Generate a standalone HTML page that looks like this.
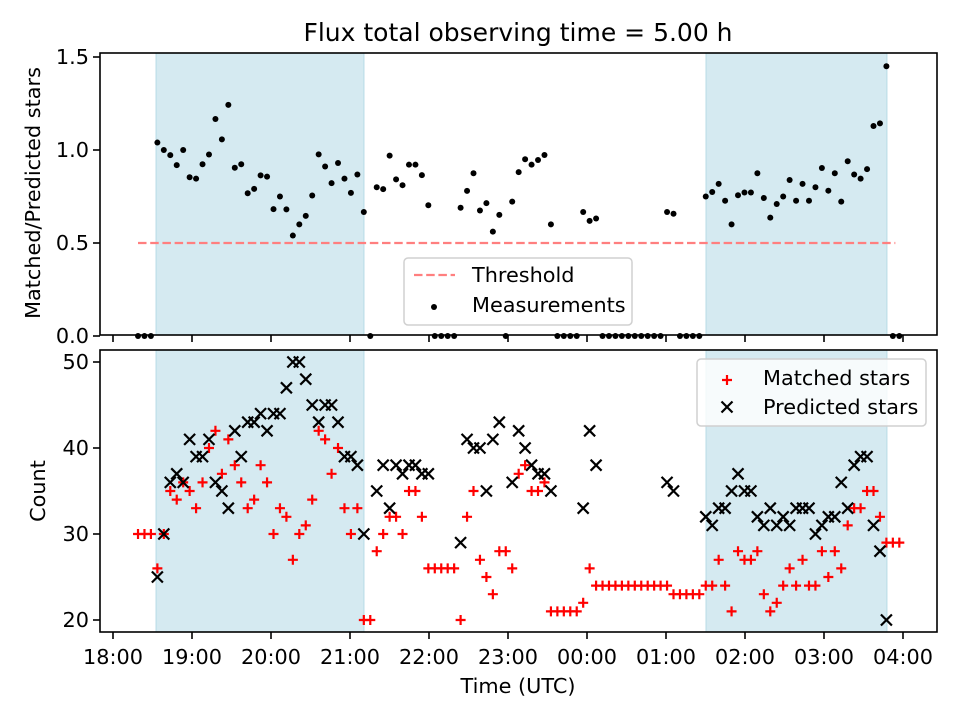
<!DOCTYPE html>
<html><head><meta charset="utf-8"><style>
html,body{margin:0;padding:0;background:#fff}
svg{display:block;font-family:"DejaVu Sans","Liberation Sans",sans-serif}
</style></head><body>
<svg id="chart" width="960" height="720" viewBox="0 0 960 720"></svg>
<script>
const ticksX = ["18:00","19:00","20:00","21:00","22:00","23:00","00:00","01:00","02:00","03:00","04:00"];
const ticksTop = [0, 0.5, 1.0, 1.5];
const ticksBottom = [20, 30, 40, 50];
const startMin = 19;
const stepMin = 4.9;
const threshold = 0.5;
const spans = [[32.7, 190.6], [450.4, 587.8]];
const matched = [30,30,30,26,30,35,34,36,35,33,36,40,42,37,41,38,36,33,34,38,36,30,33,32,27,30,31,34,42,41,37,40,33,30,33,20,20,28,30,32,32,30,35,35,32,26,26,26,26,26,20,32,35,27,25,23,28,28,26,37,38,35,35,36,21,21,21,21,21,22,26,24,24,24,24,24,24,24,24,24,24,24,24,23,23,23,23,23,24,24,27,24,21,28,27,27,28,23,21,22,24,26,24,27,24,24,28,25,28,26,31,33,33,35,35,32,29,29,29];
const predicted = [null,null,null,25,30,36,37,36,41,39,39,41,36,35,33,42,39,43,43,44,42,44,44,47,50,50,48,45,43,45,45,43,39,39,38,30,null,35,38,33,38,37,38,38,37,37,null,null,null,null,29,41,40,40,35,41,43,null,36,42,40,38,37,37,35,null,null,null,null,33,42,38,null,null,null,null,null,null,null,null,null,null,36,35,null,null,null,null,32,31,33,33,35,37,35,35,32,31,33,31,32,31,33,33,33,30,31,32,32,36,33,38,39,39,31,28,20,null,null];

const NS = "http://www.w3.org/2000/svg";
const svg = document.getElementById('chart');
function mk(tag, attrs, parent){const e=document.createElementNS(NS,tag);for(const k in attrs)e.setAttribute(k,attrs[k]);(parent||svg).appendChild(e);return e;}
const L=100,R=937, T1=53,B1=335, T2=350,B2=632;
const xMin = m => 113 + 79*m/60;
const yTop = v => 336 - v*186;
const yBot = v => 620 - (v-20)*8.6;
const ratio = matched.map((m,i)=> predicted[i] ? m/predicted[i] : 0);
const times = matched.map((m,i)=> startMin + i*stepMin);

[[T1,B1],[T2,B2]].forEach((p,pi)=>{
  spans.forEach((s,si)=>{
    const r=mk('rect',{x:xMin(s[0]),y:p[0],width:xMin(s[1])-xMin(s[0]),height:p[1]-p[0],fill:'#d5eaf1',stroke:'#b7dbe6','stroke-width':1});
    
    
  });
});

const th=mk('line',{x1:xMin(times[0]),x2:xMin(times[times.length-1])-4,y1:yTop(threshold),y2:yTop(threshold),stroke:'#ff7f7f','stroke-width':2.2,'stroke-dasharray':'8.5,3.7'});



times.forEach((t,i)=>{
  const c=mk('circle',{cx:xMin(t),cy:yTop(ratio[i]),r:3,fill:'#000'});
  
  
});

times.forEach((t,i)=>{
  const x=xMin(t), y=yBot(matched[i]);
  const p=mk('path',{d:`M${x-5},${y}H${x+5}M${x},${y-5}V${y+5}`,stroke:'#ff0000','stroke-width':2.2,fill:'none'});
  
  
});
times.forEach((t,i)=>{
  if(predicted[i]==null) return;
  const x=xMin(t), y=yBot(predicted[i]);
  const p=mk('path',{d:`M${x-5.5},${y-5.5}L${x+5.5},${y+5.5}M${x-5.5},${y+5.5}L${x+5.5},${y-5.5}`,stroke:'#000','stroke-width':2.2,fill:'none'});
  
  
});

[[T1,B1,'top-axes-frame'],[T2,B2,'bottom-axes-frame']].forEach(p=>{
  const f=mk('rect',{x:L,y:p[0],width:R-L,height:p[1]-p[0],fill:'none',stroke:'#000','stroke-width':1.6});
  
  
});

ticksX.forEach((lab,k)=>{
  const x=113+79*k;
  mk('line',{x1:x,x2:x,y1:B1,y2:B1+7,stroke:'#000','stroke-width':1.6});
  mk('line',{x1:x,x2:x,y1:B2,y2:B2+7,stroke:'#000','stroke-width':1.6});
  const tx=mk('text',{x:x,y:664,'font-size':20.8,'text-anchor':'middle',fill:'#000'});
  tx.textContent=lab;
  
  
});
ticksTop.forEach(v=>{
  const y=yTop(v);
  mk('line',{x1:L-7,x2:L,y1:y,y2:y,stroke:'#000','stroke-width':1.6});
  const tx=mk('text',{x:L-11,y:y+7,'font-size':20.8,'text-anchor':'end',fill:'#000'});
  tx.textContent=v.toFixed(1);
  
  
});
ticksBottom.forEach(v=>{
  const y=yBot(v);
  mk('line',{x1:L-7,x2:L,y1:y,y2:y,stroke:'#000','stroke-width':1.6});
  const tx=mk('text',{x:L-11,y:y+7,'font-size':20.8,'text-anchor':'end',fill:'#000'});
  tx.textContent=String(v);
  
  
});
</script>
<svg width="960" height="720" style="position:absolute;left:0;top:0;font-family:'DejaVu Sans','Liberation Sans',sans-serif">
  <text x="518" y="41" font-size="25" text-anchor="middle">Flux total observing time = 5.00 h</text>
  <text x="518" y="693" font-size="20.8" text-anchor="middle">Time (UTC)</text>
  <text transform="translate(40,193) rotate(-90)" font-size="20.8" text-anchor="middle">Matched/Predicted stars</text>
  <text transform="translate(45,491) rotate(-90)" font-size="20.8" text-anchor="middle">Count</text>
  <g>
    <rect x="404" y="258" width="228" height="67" rx="4" fill="#fff" fill-opacity="0.85" stroke="#d0d0d0" stroke-width="1.5"/>
    <line x1="414" x2="455" y1="275" y2="275" stroke="#ff7f7f" stroke-width="2.2" stroke-dasharray="8.5,3.7"/>
    <text x="472" y="282" font-size="20.8">Threshold</text>
    <circle cx="434" cy="307" r="3" fill="#000"/>
    <text x="472" y="312" font-size="20.8">Measurements</text>
  </g>
  <g>
    <rect x="697" y="359" width="229" height="67" rx="4" fill="#fff" fill-opacity="0.8" stroke="#d0d0d0" stroke-width="1.5"/>
    <path d="M722,380H732M727,375V385" stroke="#ff0000" stroke-width="2.2"/>
    <text x="763" y="385" font-size="20.8">Matched stars</text>
    <path d="M721.5,401.5L732.5,412.5M721.5,412.5L732.5,401.5" stroke="#000" stroke-width="2.2"/>
    <text x="763" y="414" font-size="20.8">Predicted stars</text>
  </g>
</svg>
</body></html>
